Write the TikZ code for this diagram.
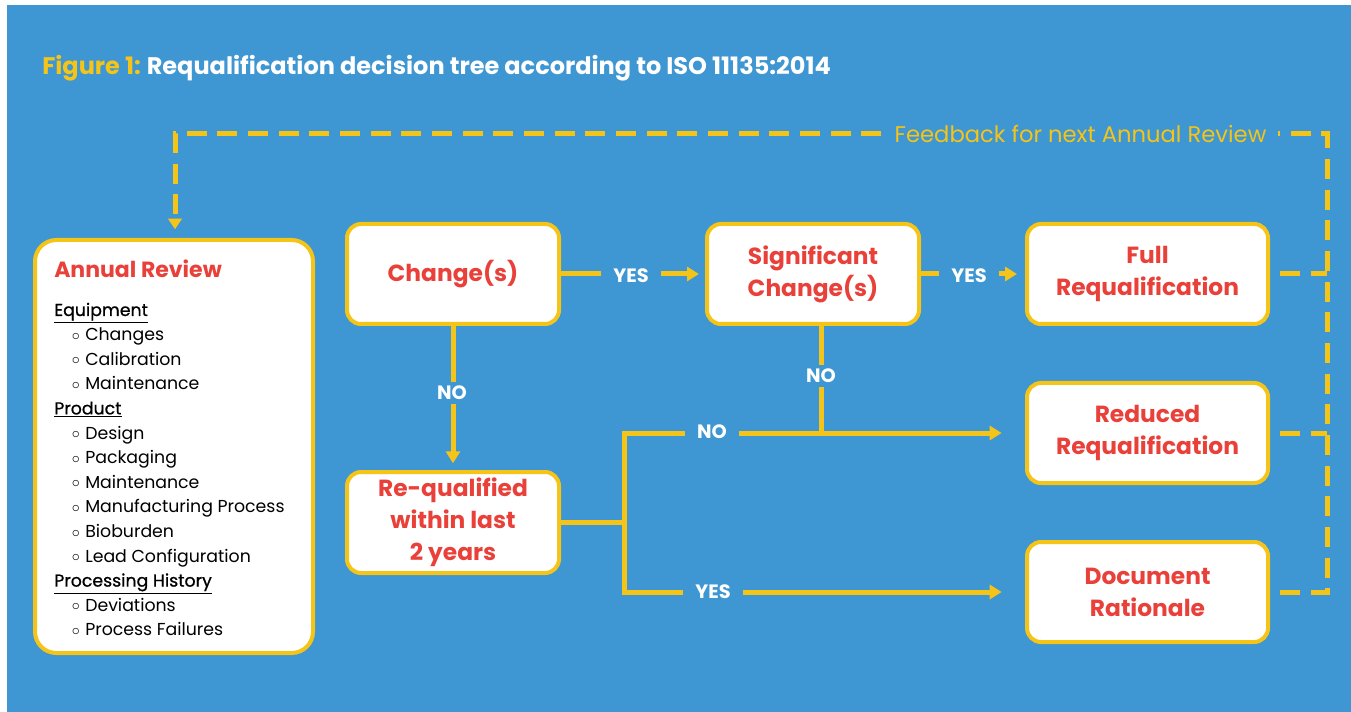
\documentclass[tikz,border=0pt]{standalone}
\usepackage{fontspec}
\setmainfont{Poppins}
\newfontfamily\popmed{Poppins}[FakeBold=0.8]
\usetikzlibrary{arrows.meta}
\definecolor{bg}{RGB}{62,150,210}
\definecolor{yel}{RGB}{245,196,24}
\definecolor{rtxt}{RGB}{233,64,58}
\newcommand\bul{\makebox[0pt][r]{\raisebox{0.2pt}{\fontsize{12}{12}\selectfont$\circ$}\hspace{4pt}}}
\tikzset{
  box/.style={draw=yel, line width=3pt, fill=white, rounded corners=10.5pt, text=rtxt,
    font=\bfseries\fontsize{17.5}{24}\selectfont, align=center, inner sep=0pt},
  conn/.style={draw=yel, line width=3.75pt, -{Triangle[length=9pt,width=10.5pt]}},
  plainline/.style={draw=yel, line width=3.75pt},
  lbl/.style={fill=bg, text=white, font=\bfseries\fontsize{14.5}{16}\selectfont, inner xsep=9pt, inner ysep=3pt},
  fb/.style={draw=yel, line width=3.75pt, dash pattern=on 15pt off 8pt},
  hd/.style={anchor=base west, font=\popmed\fontsize{13}{15}\selectfont, text=black, inner sep=0pt},
  it/.style={anchor=base west, font=\fontsize{13}{15}\selectfont, text=black, inner sep=0pt},
}
\begin{document}
\begin{tikzpicture}[x=0.75pt,y=-0.75pt]
\useasboundingbox (0,0) rectangle (1351,712);
\fill[white] (0,0) rectangle (1351,712);
\fill[bg] (7,5) rectangle (1351,712);

% title
\node[anchor=base west, inner sep=0pt, text=yel, font=\bfseries\fontsize{18}{21}\selectfont] (t1) at (42,75) {Figure 1:};
\node[anchor=base west, inner sep=0pt, text=white, font=\bfseries\fontsize{18}{21}\selectfont] (t2) at ([xshift=4pt]t1.base east) {Requalification decision tree according to ISO 11135:2014};

% boxes
\node[box, minimum width=208.5pt, minimum height=309.75pt, rounded corners=16pt] (ann) at (174,446.5) {};
\node[box, minimum width=159pt, minimum height=75pt] (chg) at (453,274) {Change(s)};
\node[box, minimum width=159pt, minimum height=75pt] (sig) at (813,274) {\raisebox{-3pt}{\parbox{150pt}{\centering Significant\\Change(s)}}};
\node[box, minimum width=180.75pt, minimum height=75pt] (full) at (1147.5,274) {Full\\Requalification};
\node[box, minimum width=180.75pt, minimum height=75pt] (red) at (1147.5,433) {Reduced\\Requalification};
\node[box, minimum width=180.75pt, minimum height=75pt] (doc) at (1147.5,592) {Document\\Rationale};
\node[box, minimum width=159pt, minimum height=75.75pt] (req) at (453,522.5) {Re-qualified\\within last\\2 years};

% annual review content
\node[anchor=base west, inner sep=0pt, text=rtxt, font=\bfseries\fontsize{16.5}{19}\selectfont] (annT) at (54,278) {Annual Review};
\foreach \k/\txt in {0/Equipment,4/Product,11/Processing History}
  \node[hd] (h\k) at (54,316+24.6*\k) {\underline{\txt}};
\foreach \k/\txt in {1/Changes,2/Calibration,3/Maintenance,5/Design,6/Packaging,7/Maintenance,8/Manufacturing Process,9/Bioburden,10/Lead Configuration,12/Deviations,13/Process Failures}
  \node[it] (i\k) at (85,316+24.6*\k) {\bul\txt};

% connector helper coordinates
\coordinate (sigdn) at (821,326);
\coordinate (jno) at (624,432);
\coordinate (jyes) at (624,592);
\coordinate (jmid) at (624,522.5);
\coordinate (fbR) at (1327,134);
\coordinate (fbL) at (175,134);

% solid connectors
\draw[conn, shorten >=4.5pt] (chg.east) -- (sig.west);
\draw[conn, shorten >=6pt] (sig.east) -- (full.west);
\draw[conn, shorten >=5pt] (chg.south) -- (req.north);
\draw[plainline] (sigdn) -- (sigdn |- jno);
\draw[plainline] (req.east) -- (jmid);
\draw[draw=yel, line width=3.75pt, line join=miter, {Triangle[length=9pt,width=10.5pt]}-{Triangle[length=9pt,width=10.5pt]}, shorten <=17.5pt, shorten >=17.5pt]
  (red.west) -- (red.west -| jno) -- (jyes) -- (doc.west);

% labels
\node[lbl] (l1) at (631,276) {YES};
\node[lbl] (l2) at (969,276) {YES};
\node[lbl] (l3) at (452,393) {NO};
\node[lbl] (l4) at (821,376) {NO};
\node[lbl] (l5) at (712,432) {NO};
\node[lbl] (l6) at (713,592) {YES};

% feedback loop
\draw[fb, -{Triangle[length=8pt,width=10pt]}, shorten >=6.5pt]
  ([xshift=7.5pt]doc.east) -- (doc.east -| fbR) -- (fbR) -- (fbL) -- (fbL |- ann.north);
\draw[fb] ([xshift=7.5pt]full.east) -- (full.east -| fbR);
\draw[fb] ([xshift=7.5pt]red.east) -- (red.east -| fbR);
\node[fill=bg, text=yel, font=\fontsize{17}{19}\selectfont, inner xsep=9pt, inner ysep=3pt] (fbl) at (1080.5,134) {Feedback for next Annual Review};
\end{tikzpicture}
\end{document}
